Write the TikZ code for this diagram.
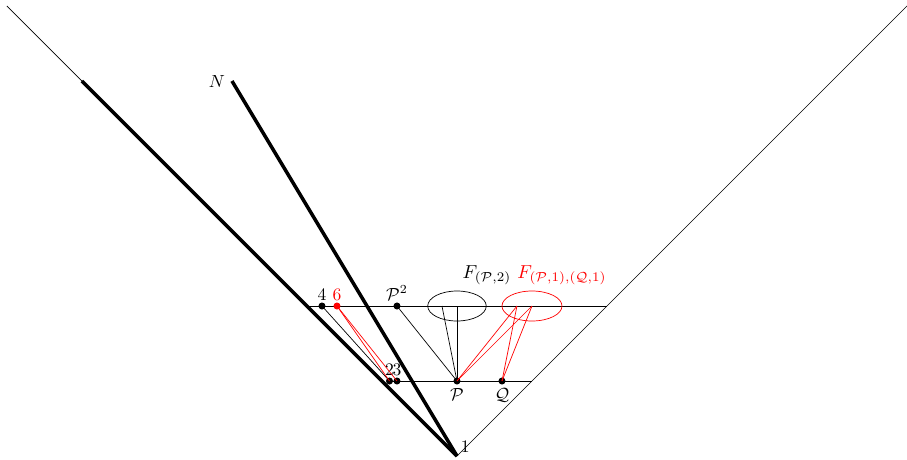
\documentclass[tikz,border=0pt]{standalone}
\usepackage{amsmath,amssymb}
\usepackage{tikz}
\usetikzlibrary{positioning,calc,shapes.geometric}
\definecolor{redpath}{HTML}{FF0000}
\tikzset{
  cone/.style={thin, draw=black},
  heavy/.style={line width=2pt, draw=black},
  level/.style={thin, draw=black},
  link/.style={thin, draw=black},
  redlink/.style={thin, draw=redpath},
  dot/.style={circle, fill=black, inner sep=0pt, minimum size=4pt},
  reddot/.style={dot, fill=redpath}
}

\begin{document}
\begin{tikzpicture}[x=1.5cm,y=1.5cm]
        \useasboundingbox (-6.093,-0.04) rectangle (6.0,6.08);
        % light cone and the two thick curves
        \coordinate (apex) at (0,0);
        \coordinate (coneL) at (-6,6);
        \coordinate (coneR) at (6,6);
        \coordinate (heavyL) at (-5,5);
        \coordinate (nEnd) at (-3,5);
        \draw[cone] (apex) -- (coneL);
        \draw[cone] (apex) -- (coneR);
        \draw[heavy] (apex) -- (heavyL);
        \draw[heavy] (apex) -- (nEnd) node[left, inner sep=3pt] {$N$};
        \node[right, inner sep=2pt] at (apex) [yshift=5pt] {$1$};
        % the two levels
        \coordinate (topL) at (-2,2);
        \coordinate (topR) at (2,2);
        \coordinate (lowR) at (1,1);
        \draw[level] (topL) -- (topR);
        % points on the levels
        \node[dot] (p2) at (-0.9,1) {};
        \node[dot] (p3) at (-0.8,1) {};
        \node[dot] (pP) at (0,1) {};
        \node[dot] (pQ) at (0.6,1) {};
        \node[dot] (p4) at (-1.8,2) {};
        \node[reddot] (p6) at (-1.6,2) {};
        \node[dot] (pP2) at (-0.8,2) {};
        \draw[level] (p2.center) -- (lowR);
        \node[above=0pt of p2, inner sep=1pt] {$2$};
        \node[above=0pt of p3, inner sep=1pt] {$3$};
        \node[below=1pt of pP, inner sep=1pt] {$\mathcal{P}$};
        \node[below=1pt of pQ, inner sep=1pt] {$\mathcal{Q}$};
        \node[above=0pt of p4, inner sep=1pt] {$4$};
        \node[above=0pt of p6, inner sep=1pt, text=redpath] {$6$};
        \node[above=0pt of pP2, inner sep=1pt] {$\mathcal{P}^2$};
        % the two families
        \node[draw, ellipse, minimum width=1.17cm, minimum height=0.6cm,
          inner sep=0pt] (fP) at (0,2) {};
        \node[draw=redpath, ellipse, minimum width=1.2cm, minimum height=0.6cm,
          inner sep=0pt] (fPQ) at (1,2) {};
        \node[scale=1.07] at (0.4,2.41) {$F_{(\mathcal{P},2)}$};
        \node[scale=1.07, text=redpath] at (1.4,2.41) {$F_{(\mathcal{P},1),(\mathcal{Q},1)}$};
        \coordinate (fPa) at (-0.2,2);
        \coordinate (fPQa) at (0.8,2);
        \draw[link] (pP.center) -- (fP.center);
        \draw[link] (pP.center) -- (fPa);
        \draw[link] (pP.center) -- (pP2.center);
        \draw[link] (p4.center) -- (p2.center);
        \draw[redlink] (p6.center) -- (p2.center);
        \draw[redlink] (p6.center) -- (p3.center);
        \draw[redlink] (pP.center) -- (fPQa);
        \draw[redlink] (pP.center) -- (fPQ.center);
        \draw[redlink] (pQ.center) -- (fPQa);
        \draw[redlink] (pQ.center) -- (fPQ.center);
      \end{tikzpicture}
\end{document}
